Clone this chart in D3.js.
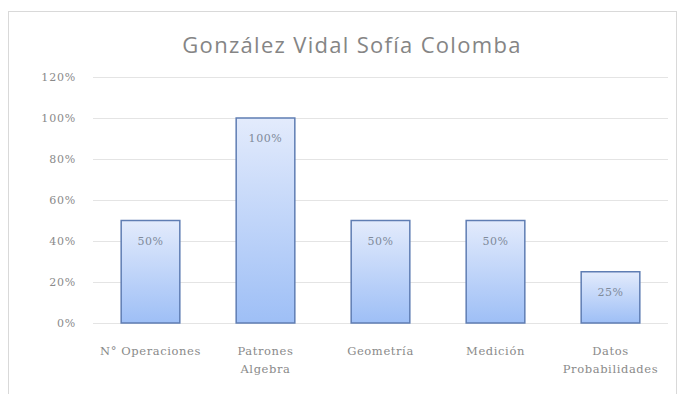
<!DOCTYPE html>
<html><head><meta charset="utf-8">
<script src="https://cdn.jsdelivr.net/npm/d3@7"></script>
<style>body{margin:0;background:#fff;}svg{display:block;}</style>
</head><body>
<script>
const title = "González Vidal Sofía Colomba";
const categories = [["N° Operaciones"],["Patrones","Algebra"],["Geometría"],["Medición"],["Datos","Probabilidades"]];
const values = [0.5, 1.0, 0.5, 0.5, 0.25];
const yTicks = [0, 0.2, 0.4, 0.6, 0.8, 1.0, 1.2];

(function(){
const W = 680, H = 394;
const svg = d3.select("body").append("svg").attr("width", W).attr("height", H);
const defs = svg.append("defs");
const g = defs.append("linearGradient").attr("id","barg").attr("x1",0).attr("y1",0).attr("x2",0).attr("y2",1);
g.append("stop").attr("offset","0%").attr("stop-color","#e3ebfc");
g.append("stop").attr("offset","100%").attr("stop-color","#9ebff6");

svg.append("rect").attr("x",8.5).attr("y",11.5).attr("width",668).attr("height",400)
  .attr("fill","#fff").attr("stroke","#d9d9d9");

const mLeft = 93, mRight = 668, mTop = 77, mBottom = 323;
const x = d3.scaleBand().domain(d3.range(categories.length)).range([mLeft,mRight]).paddingInner(0.49).paddingOuter(0.245);
const y = d3.scaleLinear().domain([0,1.2]).range([mBottom,mTop]);

svg.append("text").attr("x",352).attr("y",53).attr("text-anchor","middle")
  .attr("font-family","'Open Sans', sans-serif").attr("font-size",22).attr("letter-spacing",1.3)
  .attr("fill","#858585").text(title);

const lblFont = "'DejaVu Serif', serif";
const yAxis = d3.axisLeft(y).tickValues(yTicks).tickFormat(d3.format(".0%")).tickSize(-(mRight-mLeft)).tickPadding(17);
const ya = svg.append("g").attr("transform",`translate(${mLeft},0)`).call(yAxis);
ya.select(".domain").remove();
ya.selectAll(".tick line").attr("stroke","#e4e4e4").attr("stroke-width",1.2);
ya.selectAll(".tick text").attr("font-family",lblFont).attr("font-size",11).attr("letter-spacing",0.8).attr("fill","#8a8a8a");

svg.append("g").selectAll("rect").data(values).join("rect")
  .attr("x",(d,i)=>x(i)).attr("y",d=>y(d)).attr("width",x.bandwidth()).attr("height",d=>y(0)-y(d))
  .attr("fill","url(#barg)").attr("stroke","#5f7db3").attr("stroke-width",1.5);

svg.append("g").selectAll("text").data(values).join("text")
  .attr("x",(d,i)=>x(i)+x.bandwidth()/2).attr("y",d=>y(d)+24).attr("text-anchor","middle")
  .attr("font-family",lblFont).attr("font-size",11).attr("letter-spacing",0.6).attr("fill","#7f8a9a")
  .text(d=>d3.format(".0%")(d));

const xl = svg.append("g").selectAll("text").data(categories).join("text")
  .attr("x",(d,i)=>x(i)+x.bandwidth()/2).attr("y",355).attr("text-anchor","middle")
  .attr("font-family",lblFont).attr("font-size",11.5).attr("letter-spacing",0.6).attr("fill","#8a8a8a");
xl.selectAll("tspan").data(d=>d).join("tspan")
  .attr("x",function(){return this.parentNode.getAttribute("x");})
  .attr("dy",(d,i)=>i===0?0:18).text(d=>d);
})();
</script>
</body></html>
